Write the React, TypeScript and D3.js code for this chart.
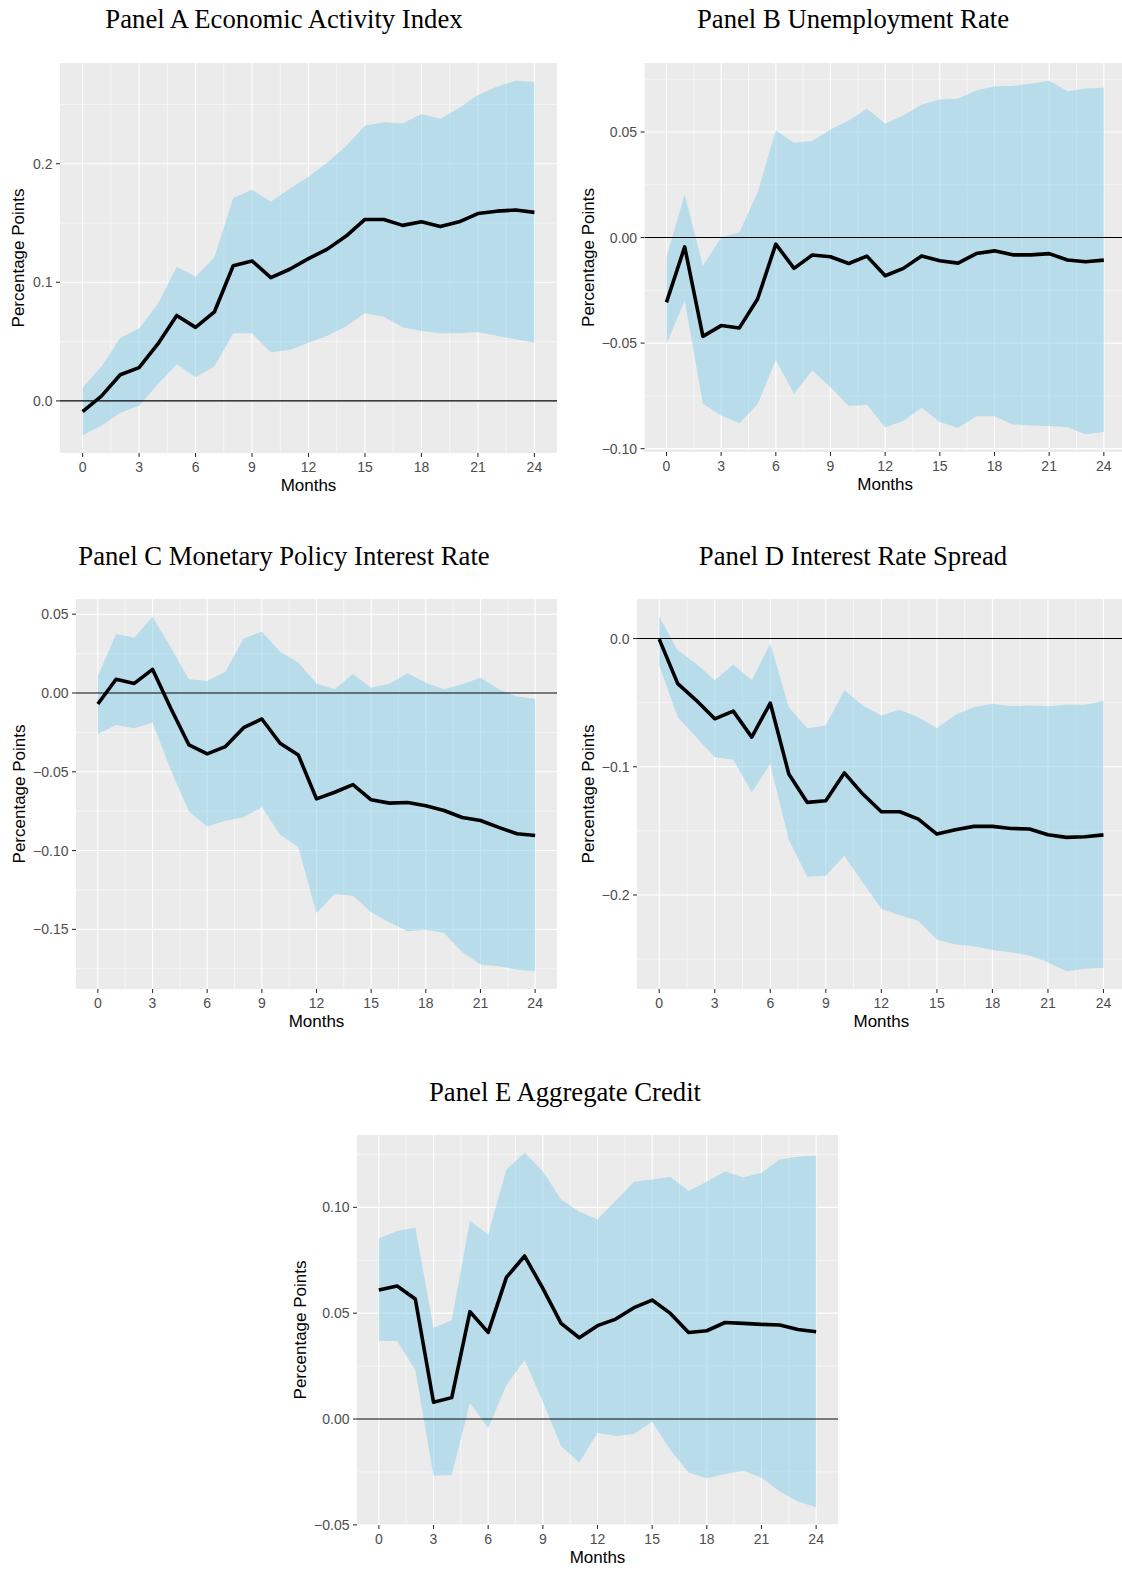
import * as d3 from 'd3'

// horizon in months
const months = [0, 1, 2, 3, 4, 5, 6, 7, 8, 9, 10, 11, 12, 13, 14, 15, 16, 17, 18, 19, 20, 21, 22, 23, 24]
const monthTicks = [0, 3, 6, 9, 12, 15, 18, 21, 24]

// Panel A: economic activity index
const activityMean = [-0.009, 0.004, 0.022, 0.028, 0.048, 0.072, 0.062, 0.075, 0.114, 0.118, 0.104, 0.111, 0.12, 0.128, 0.139, 0.153, 0.153, 0.148, 0.151, 0.147, 0.151, 0.158, 0.16, 0.161, 0.159]
const activityUpper = [0.011, 0.029, 0.053, 0.061, 0.082, 0.113, 0.105, 0.121, 0.171, 0.178, 0.168, 0.179, 0.189, 0.201, 0.215, 0.232, 0.235, 0.234, 0.242, 0.238, 0.247, 0.258, 0.265, 0.27, 0.269]
const activityLower = [-0.029, -0.021, -0.01, -0.004, 0.014, 0.031, 0.02, 0.029, 0.057, 0.057, 0.041, 0.043, 0.049, 0.055, 0.063, 0.074, 0.071, 0.062, 0.059, 0.057, 0.057, 0.058, 0.055, 0.052, 0.049]

// Panel B: unemployment rate
const unempMean = [-0.0307, -0.0044, -0.0468, -0.0417, -0.0428, -0.0291, -0.0031, -0.0146, -0.0083, -0.0091, -0.0123, -0.0088, -0.0181, -0.0146, -0.0087, -0.011, -0.0121, -0.0076, -0.0063, -0.0082, -0.0082, -0.0076, -0.0106, -0.0115, -0.0107]
const unempUpper = [-0.0094, 0.0205, -0.0134, 0.0, 0.0024, 0.0213, 0.0507, 0.0449, 0.0457, 0.0512, 0.0554, 0.061, 0.054, 0.0578, 0.063, 0.0654, 0.0658, 0.0696, 0.0717, 0.0718, 0.0728, 0.0743, 0.0693, 0.0706, 0.0709]
const unempLower = [-0.0504, -0.0299, -0.0787, -0.0843, -0.0879, -0.079, -0.058, -0.074, -0.063, -0.0709, -0.0798, -0.0792, -0.0898, -0.0869, -0.0806, -0.0874, -0.0901, -0.0847, -0.0847, -0.0885, -0.089, -0.0893, -0.0898, -0.0932, -0.0921]

// Panel C: monetary policy interest rate
const policyMean = [-0.007, 0.0087, 0.0061, 0.015, -0.0097, -0.033, -0.0386, -0.034, -0.022, -0.0165, -0.0319, -0.0393, -0.0672, -0.063, -0.0581, -0.0678, -0.0699, -0.0695, -0.0716, -0.0746, -0.079, -0.0809, -0.0853, -0.0893, -0.0904]
const policyUpper = [0.0108, 0.0374, 0.035, 0.0484, 0.0289, 0.0087, 0.0076, 0.0135, 0.0346, 0.0389, 0.0262, 0.0194, 0.0061, 0.0023, 0.012, 0.0034, 0.0059, 0.0125, 0.0065, 0.0023, 0.0055, 0.0097, 0.0023, -0.0023, -0.0036]
const policyLower = [-0.026, -0.0203, -0.0224, -0.0188, -0.0488, -0.0752, -0.0847, -0.0811, -0.0788, -0.0724, -0.09, -0.0978, -0.1396, -0.1276, -0.1286, -0.1392, -0.1455, -0.1512, -0.1502, -0.1523, -0.1643, -0.1723, -0.1734, -0.1755, -0.1766]

// Panel D: interest rate spread
const spreadMean = [-0.0005, -0.0352, -0.0482, -0.0626, -0.0566, -0.0769, -0.0503, -0.1056, -0.1278, -0.1265, -0.1048, -0.1213, -0.1351, -0.1351, -0.1408, -0.1525, -0.1491, -0.1465, -0.1465, -0.1481, -0.1486, -0.1531, -0.1551, -0.1546, -0.1531]
const spreadUpper = [0.017, -0.0091, -0.0196, -0.0326, -0.0203, -0.0326, -0.0039, -0.0535, -0.0699, -0.0678, -0.0404, -0.0522, -0.06, -0.0555, -0.0613, -0.0699, -0.0595, -0.0535, -0.0508, -0.0529, -0.0522, -0.0529, -0.0516, -0.0516, -0.0488]
const spreadLower = [-0.0209, -0.0613, -0.0769, -0.0926, -0.0944, -0.1199, -0.0978, -0.157, -0.1857, -0.1851, -0.1695, -0.1904, -0.2107, -0.2159, -0.2203, -0.2347, -0.2386, -0.2399, -0.243, -0.2446, -0.2472, -0.2524, -0.2595, -0.2576, -0.2568]

// Panel E: aggregate credit
const creditMean = [0.0609, 0.0628, 0.0567, 0.0079, 0.0101, 0.0507, 0.0409, 0.0669, 0.077, 0.0617, 0.0452, 0.0384, 0.0441, 0.0472, 0.0526, 0.0562, 0.0499, 0.0409, 0.0417, 0.0456, 0.0452, 0.0447, 0.0444, 0.0423, 0.0412]
const creditUpper = [0.0853, 0.0888, 0.0904, 0.0431, 0.0467, 0.0937, 0.0872, 0.1179, 0.1258, 0.1171, 0.1037, 0.0979, 0.0944, 0.1031, 0.1121, 0.1132, 0.1144, 0.1077, 0.1121, 0.1171, 0.1141, 0.1163, 0.1226, 0.1239, 0.1244]
const creditLower = [0.0368, 0.0368, 0.0231, -0.0268, -0.0264, 0.0077, -0.0044, 0.0161, 0.0279, 0.0082, -0.0127, -0.0206, -0.0065, -0.008, -0.0071, -0.0013, -0.0146, -0.0253, -0.028, -0.026, -0.0244, -0.0277, -0.0343, -0.039, -0.0417]

const ticksA = [0, 0.1, 0.2]
const ticksB = [-0.1, -0.05, 0, 0.05]
const ticksC = [-0.15, -0.1, -0.05, 0, 0.05]
const ticksD = [-0.2, -0.1, 0]
const ticksE = [-0.05, 0, 0.05, 0.1]

const SANS = '"Liberation Sans", Arial, Helvetica, sans-serif'
const SERIF = '"Liberation Serif", "Times New Roman", serif'

interface PanelProps {
  id: string
  title: string
  mean: number[]
  lower: number[]
  upper: number[]
  yTicks: number[]
  digits: number
  left: number
  right: number
  top: number
  bottom: number
  titleX: number
  titleY: number
  yTitleX: number
}

function Panel(p: PanelProps) {
  const [x0, x1] = d3.extent(months) as [number, number]
  const xPad = (x1 - x0) * 0.05
  const x = d3.scaleLinear().domain([x0 - xPad, x1 + xPad]).range([p.left, p.right])

  const lo = Math.min(d3.min(p.lower)!, 0)
  const hi = Math.max(d3.max(p.upper)!, 0)
  const yPad = (hi - lo) * 0.05
  const y = d3.scaleLinear().domain([lo - yPad, hi + yPad]).range([p.bottom, p.top])
  const [d0, d1] = y.domain()

  // minor breaks sit halfway between the major ones (and half a step outside)
  const step = p.yTicks[1] - p.yTicks[0]
  const yMinor = [p.yTicks[0] - step / 2, ...p.yTicks.map(t => t + step / 2)].filter(v => v > d0 && v < d1)
  const xMinor = monthTicks.slice(1).map((t, i) => (t + monthTicks[i]) / 2)

  const band = d3.area<number>()
    .x((_, i) => x(months[i]))
    .y0((_, i) => y(p.lower[i]))
    .y1((_, i) => y(p.upper[i]))
  const line = d3.line<number>()
    .x((_, i) => x(months[i]))
    .y(d => y(d))

  const fmt = (v: number) => (v < 0 ? '\u2212' : '') + Math.abs(v).toFixed(p.digits)
  const midY = (p.top + p.bottom) / 2

  return (
    <g>
      <defs>
        <clipPath id={`clip-${p.id}`}>
          <rect x={p.left} y={p.top} width={p.right - p.left} height={p.bottom - p.top} />
        </clipPath>
      </defs>
      <text x={p.titleX} y={p.titleY} textAnchor="middle" fontFamily={SERIF} fontSize={26.7} fill="#000">{p.title}</text>
      <rect x={p.left} y={p.top} width={p.right - p.left} height={p.bottom - p.top} fill="#EBEBEB" />
      <g clipPath={`url(#clip-${p.id})`}>
        {yMinor.map(v => (
          <line key={`ym${v}`} x1={p.left} x2={p.right} y1={y(v)} y2={y(v)} stroke="#fff" strokeWidth={0.55} />
        ))}
        {xMinor.map(v => (
          <line key={`xm${v}`} x1={x(v)} x2={x(v)} y1={p.top} y2={p.bottom} stroke="#fff" strokeWidth={0.55} />
        ))}
        {p.yTicks.map(v => (
          <line key={`yM${v}`} x1={p.left} x2={p.right} y1={y(v)} y2={y(v)} stroke="#fff" strokeWidth={1.1} />
        ))}
        {monthTicks.map(v => (
          <line key={`xM${v}`} x1={x(v)} x2={x(v)} y1={p.top} y2={p.bottom} stroke="#fff" strokeWidth={1.1} />
        ))}
        <path d={band(p.mean)!} fill="#87CEEB" fillOpacity={0.5} />
        <line x1={p.left} x2={p.right} y1={y(0)} y2={y(0)} stroke="#000" strokeWidth={1.1} />
        <path d={line(p.mean)!} fill="none" stroke="#000" strokeWidth={3.6} strokeLinejoin="round" />
      </g>
      {/* axes */}
      {p.yTicks.map(v => (
        <g key={`yt${v}`}>
          <line x1={p.left - 4} x2={p.left} y1={y(v)} y2={y(v)} stroke="#333" strokeWidth={1.1} />
          <text x={p.left - 7.5} y={y(v)} dy="0.36em" textAnchor="end" fontFamily={SANS} fontSize={14} fill="#4D4D4D">{fmt(v)}</text>
        </g>
      ))}
      {monthTicks.map(v => (
        <g key={`xt${v}`}>
          <line x1={x(v)} x2={x(v)} y1={p.bottom} y2={p.bottom + 4} stroke="#333" strokeWidth={1.1} />
          <text x={x(v)} y={p.bottom + 19.3} textAnchor="middle" fontFamily={SANS} fontSize={14} fill="#4D4D4D">{v}</text>
        </g>
      ))}
      <text x={(p.left + p.right) / 2} y={p.bottom + 38} textAnchor="middle" fontFamily={SANS} fontSize={17} fill="#000">Months</text>
      <text transform={`translate(${p.yTitleX},${midY}) rotate(-90)`} dy="0.36em" textAnchor="middle" fontFamily={SANS} fontSize={17} fill="#000">Percentage Points</text>
    </g>
  )
}

export default function App() {
  return (
    <svg width={1122} height={1570} style={{ position: 'absolute', left: 0, top: 0, background: '#fff' }}>
      <rect width={1122} height={1570} fill="#fff" />
      <Panel id="a" title="Panel A Economic Activity Index" mean={activityMean} lower={activityLower} upper={activityUpper}
        yTicks={ticksA} digits={1} left={60} right={557} top={63} bottom={453} titleX={284} titleY={28} yTitleX={18} />
      <Panel id="b" title="Panel B Unemployment Rate" mean={unempMean} lower={unempLower} upper={unempUpper}
        yTicks={ticksB} digits={2} left={644.6} right={1125.7} top={63} bottom={452} titleX={853} titleY={28} yTitleX={587.6} />
      <Panel id="c" title="Panel C Monetary Policy Interest Rate" mean={policyMean} lower={policyLower} upper={policyUpper}
        yTicks={ticksC} digits={2} left={76} right={557} top={599} bottom={989} titleX={284} titleY={565} yTitleX={18.7} />
      <Panel id="d" title="Panel D Interest Rate Spread" mean={spreadMean} lower={spreadLower} upper={spreadUpper}
        yTicks={ticksD} digits={1} left={637} right={1125.7} top={599} bottom={989} titleX={853} titleY={565} yTitleX={587.6} />
      <Panel id="e" title="Panel E Aggregate Credit" mean={creditMean} lower={creditLower} upper={creditUpper}
        yTicks={ticksE} digits={2} left={357} right={838} top={1135} bottom={1525} titleX={565} titleY={1101} yTitleX={299.6} />
    </svg>
  )
}
